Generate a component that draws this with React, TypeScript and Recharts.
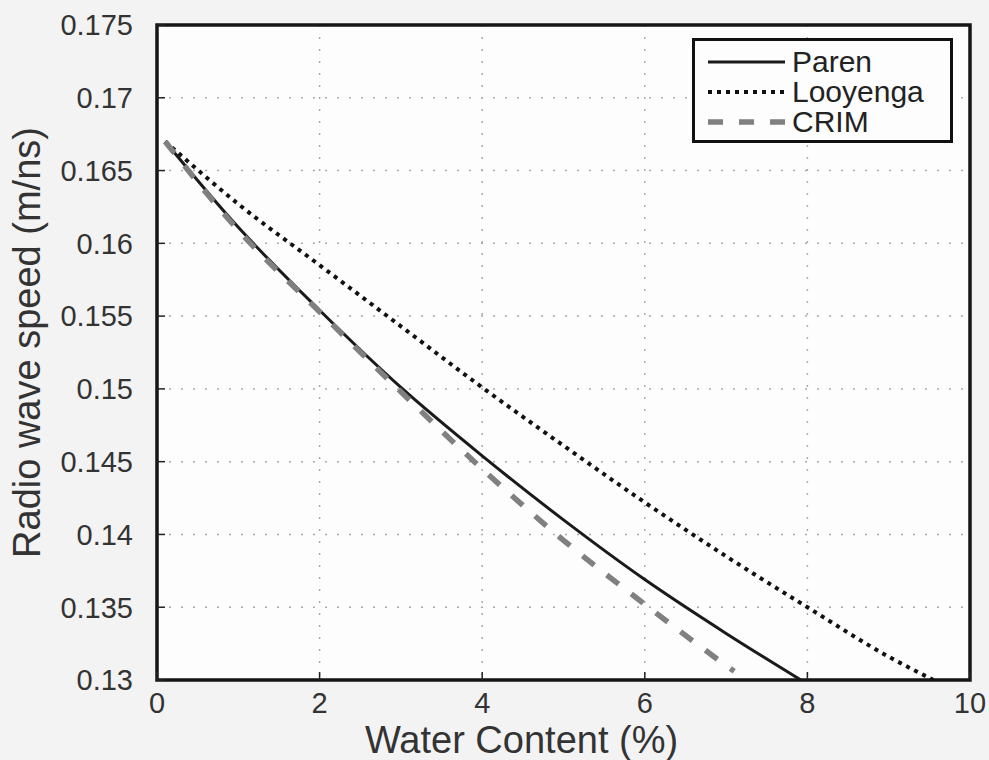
import React from 'react';
import { LineChart, Line, XAxis, YAxis, CartesianGrid, ReferenceArea, Legend } from 'recharts';

const parenWater = [0.1, 1, 2, 3, 4, 5, 6, 7, 7.92];
const parenSpeed = [0.167, 0.1611, 0.1554, 0.1501, 0.1454, 0.141, 0.1369, 0.1332, 0.13];

const looyengaWater = [0.1, 1, 2, 3, 4, 5, 6, 7, 8, 9, 9.55];
const looyengaSpeed = [0.167, 0.1627, 0.1585, 0.1543, 0.1501, 0.1461, 0.1422, 0.1385, 0.135, 0.1316, 0.13];

const crimWater = [0.1, 1, 2, 3, 4, 5, 6, 7, 7.1];
const crimSpeed = [0.167, 0.1609, 0.1553, 0.1498, 0.1445, 0.1396, 0.1352, 0.131, 0.1306];

const xTicks = [0, 2, 4, 6, 8, 10];
const yTicks = [0.13, 0.135, 0.14, 0.145, 0.15, 0.155, 0.16, 0.165, 0.17, 0.175];

const seriesNames = ['Paren', 'Looyenga', 'CRIM'];

const toRows = (xs: number[], ys: number[]) => xs.map((x, i) => ({ x, y: ys[i] }));

const FONT = '"Liberation Sans", Arial, Helvetica, sans-serif';
const TEXT = '#333';
const TICK_LINE = { stroke: '#222', strokeWidth: 1.5 };

const styles = [
  { stroke: '#1a1a1a', width: 3, dash: undefined as string | undefined },
  { stroke: '#111', width: 4, dash: '4 5' },
  { stroke: '#808080', width: 5.5, dash: '15 16' },
];

const LegendBox = () => (
  <div
    style={{
      boxSizing: 'border-box',
      width: 261,
      height: 105,
      border: '3px solid #111',
      background: '#fdfdfd',
      paddingTop: 6,
      fontFamily: FONT,
    }}
  >
    {seriesNames.map((name, i) => (
      <div key={name} style={{ display: 'flex', alignItems: 'center', height: 30 }}>
        <svg width={97} height={30} style={{ flex: 'none' }}>
          <line
            x1={13}
            x2={90}
            y1={15}
            y2={15}
            stroke={styles[i].stroke}
            strokeWidth={styles[i].width}
            strokeDasharray={styles[i].dash}
          />
        </svg>
        <span style={{ fontSize: 30, color: '#222', lineHeight: '30px' }}>{name}</span>
      </div>
    ))}
  </div>
);

export default function App() {
  const series = [
    toRows(parenWater, parenSpeed),
    toRows(looyengaWater, looyengaSpeed),
    toRows(crimWater, crimSpeed),
  ];
  return (
    <div style={{ position: 'absolute', left: 0, top: 0, width: 989, height: 760, background: '#f3f3f3' }}>
      <LineChart width={989} height={760} margin={{ top: 25, right: 19, left: 0, bottom: 20 }}>
        <CartesianGrid
          fill="#fdfdfd"
          stroke="#aaa"
          strokeWidth={1.5}
          strokeDasharray="2 10"
          horizontalValues={yTicks}
          verticalValues={xTicks}
        />
        <XAxis
          type="number"
          dataKey="x"
          domain={[0, 10]}
          ticks={xTicks}
          height={60}
          axisLine={false}
          tickLine={TICK_LINE}
          tickSize={-8}
          tickMargin={20}
          allowDataOverflow
          tick={{ fill: TEXT, fontSize: 29, fontFamily: FONT }}
          label={{
            value: 'Water Content (%)',
            position: 'center',
            dx: -42,
            dy: 30,
            fill: TEXT,
            fontSize: 38,
            fontFamily: FONT,
          }}
        />
        <XAxis
          xAxisId="top"
          orientation="top"
          type="number"
          domain={[0, 10]}
          ticks={xTicks}
          height={0}
          axisLine={false}
          tickLine={TICK_LINE}
          tickSize={-8}
          tick={false}
          allowDataOverflow
        />
        <YAxis
          type="number"
          dataKey="y"
          domain={[0.13, 0.175]}
          ticks={yTicks}
          width={157}
          axisLine={false}
          tickLine={TICK_LINE}
          tickSize={-8}
          tickMargin={32}
          allowDataOverflow
          tick={{ fill: TEXT, fontSize: 29, fontFamily: FONT }}
          label={{
            value: 'Radio wave speed (m/ns)',
            position: 'center',
            angle: -90,
            dx: -52,
            dy: -10,
            fill: TEXT,
            fontSize: 38,
            fontFamily: FONT,
          }}
        />
        <YAxis
          yAxisId="right"
          orientation="right"
          type="number"
          domain={[0.13, 0.175]}
          ticks={yTicks}
          width={0}
          axisLine={false}
          tickLine={TICK_LINE}
          tickSize={-8}
          tick={false}
          allowDataOverflow
        />
        {series.map((rows, i) => (
          <Line
            key={seriesNames[i]}
            name={seriesNames[i]}
            data={rows}
            dataKey="y"
            type="monotone"
            stroke={styles[i].stroke}
            strokeWidth={styles[i].width}
            strokeDasharray={styles[i].dash}
            dot={false}
            activeDot={false}
            isAnimationActive={false}
          />
        ))}
        <ReferenceArea
          x1={0}
          x2={10}
          y1={0.13}
          y2={0.175}
          fill="none"
          fillOpacity={0}
          stroke="#151515"
          strokeWidth={3.5}
          ifOverflow="visible"
        />
        <Legend
          layout="horizontal"
          verticalAlign="middle"
          align="center"
          content={() => <LegendBox />}
          wrapperStyle={{ position: 'absolute', top: 38, left: 692, width: 261, height: 105 }}
        />
      </LineChart>
    </div>
  );
}
